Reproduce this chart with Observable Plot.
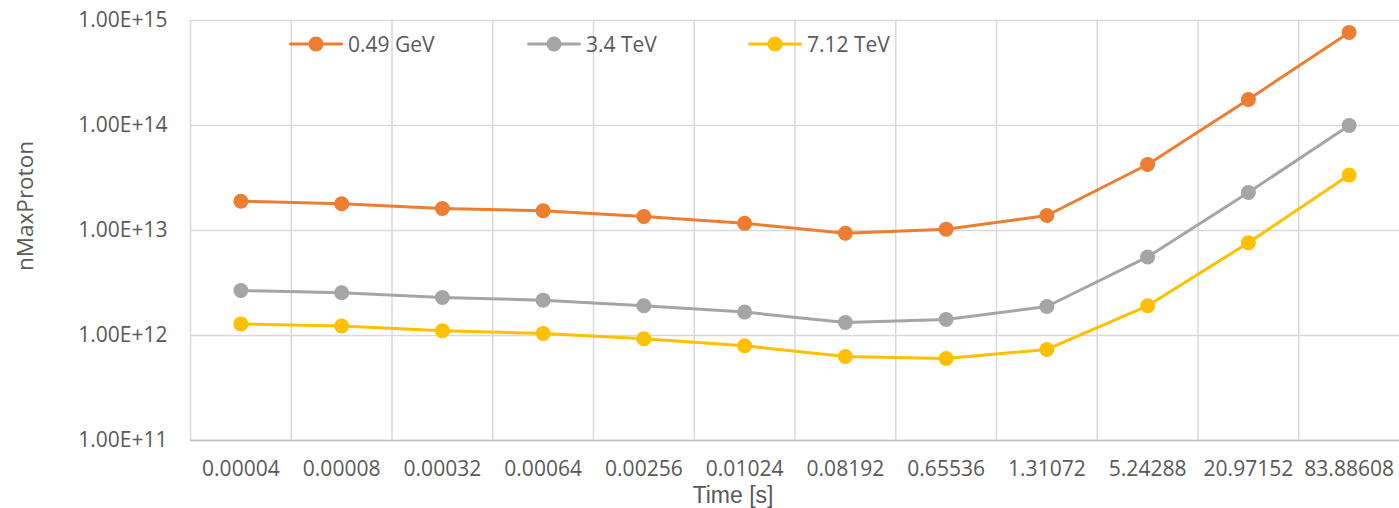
<!DOCTYPE html>
<html>
<head>
<meta charset="utf-8">
<script src="https://cdn.jsdelivr.net/npm/d3@7"></script>
<script src="https://cdn.jsdelivr.net/npm/@observablehq/plot@0.6"></script>
<style>
  html, body { margin: 0; padding: 0; background: #fff; }
  #wrap { position: relative; width: 1399px; height: 508px; font-family: "Open Sans", sans-serif; color: #595959; }
  .title { position: absolute; font-size: 22.5px; white-space: nowrap; line-height: 1; }
  .xtitle { font-family: "Liberation Sans", Arial, sans-serif; font-size: 23px; }
  .leg { position: absolute; display: flex; align-items: center; font-size: 21px; white-space: nowrap; line-height: 1; }
  .leg svg { margin-right: 5px; }
</style>
</head>
<body>
<div id="wrap"></div>
<script>
const times = ["0.00004","0.00008","0.00032","0.00064","0.00256","0.01024","0.08192","0.65536","1.31072","5.24288","20.97152","83.88608"];
const seriesNames = ["0.49 GeV", "3.4 TeV", "7.12 TeV"];
const gev049 = [1.90e13, 1.80e13, 1.62e13, 1.54e13, 1.36e13, 1.17e13, 9.4e12, 1.03e13, 1.39e13, 4.25e13, 1.77e14, 7.7e14];
const tev34  = [2.68e12, 2.55e12, 2.30e12, 2.17e12, 1.92e12, 1.67e12, 1.33e12, 1.42e12, 1.89e12, 5.6e12, 2.30e13, 1.0e14];
const tev712 = [1.29e12, 1.23e12, 1.11e12, 1.045e12, 9.3e11, 7.98e11, 6.3e11, 6.04e11, 7.36e11, 1.92e12, 7.64e12, 3.37e13];
const yTicks = [1e11, 1e12, 1e13, 1e14, 1e15];
const colors = ["#ED7D31", "#A5A5A5", "#FFC000"];

const seriesValues = [gev049, tev34, tev712];
const rows = seriesValues.flatMap((vals, s) => vals.map((v, i) => ({i, v, name: seriesNames[s]})));
const n = times.length;

const marks = [
  Plot.ruleY(yTicks, {stroke: "#D9D9D9", strokeWidth: 1.5}),
  Plot.ruleX(d3.range(n).map(i => i - 0.5), {stroke: "#D9D9D9", strokeWidth: 1.5}),
  Plot.ruleY([yTicks[0]], {stroke: "#BFBFBF", strokeWidth: 1.5}),
  Plot.axisX(d3.range(n), {tickSize: 0, tickPadding: 21, tickFormat: i => times[i], label: null}),
  Plot.axisY(yTicks, {tickSize: 0, tickPadding: 23, tickFormat: d => d.toExponential(2).toUpperCase(), label: null})
];
seriesNames.forEach(name => {
  const data = rows.filter(d => d.name === name);
  marks.push(Plot.line(data, {x: "i", y: "v", stroke: "name", strokeWidth: 3, strokeLinejoin: "round", strokeLinecap: "round"}));
  marks.push(Plot.dot(data, {x: "i", y: "v", fill: "name", r: 7.5}));
});

const chart = Plot.plot({
  width: 1399,
  height: 508,
  marginLeft: 190,
  marginRight: 0,
  marginTop: 20,
  marginBottom: 68,
  style: {fontFamily: "Open Sans, sans-serif", fontSize: "21px", color: "#595959", background: "#fff"},
  x: {type: "linear", domain: [-0.5, n - 0.5], axis: null},
  y: {type: "log", domain: [yTicks[0], yTicks[yTicks.length - 1]], axis: null},
  color: {domain: seriesNames, range: colors},
  marks
});

const wrap = document.getElementById("wrap");
wrap.appendChild(chart);

// axis titles
const xt = document.createElement("div");
xt.className = "title xtitle";
xt.textContent = "Time [s]";
xt.style.left = "733px"; xt.style.top = "483.6px"; xt.style.transform = "translateX(-50%)";
wrap.appendChild(xt);

const yt = document.createElement("div");
yt.className = "title";
yt.textContent = "nMaxProton";
yt.style.left = "25px"; yt.style.top = "206px";
yt.style.transform = "translate(-50%, -50%) rotate(-90deg)";
wrap.appendChild(yt);

// legend
const legX = [289, 527, 748];
seriesNames.forEach((name, k) => {
  const d = document.createElement("div");
  d.className = "leg";
  d.style.left = legX[k] + "px";
  d.style.top = "33px";
  d.innerHTML = `<svg width="54" height="22"><line x1="1.5" y1="11" x2="52.5" y2="11" stroke="${colors[k]}" stroke-width="3" stroke-linecap="round"/><circle cx="27" cy="11" r="7.5" fill="${colors[k]}"/></svg><span>${name}</span>`;
  wrap.appendChild(d);
});
</script>
</body>
</html>
